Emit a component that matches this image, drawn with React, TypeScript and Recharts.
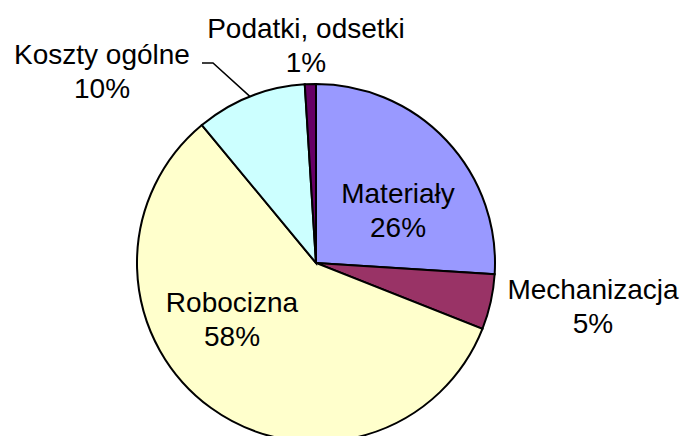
import React from 'react';
import { PieChart, Pie, Cell } from 'recharts';

const categories = ['Materiały', 'Mechanizacja', 'Robocizna', 'Koszty ogólne', 'Podatki, odsetki'];
const shares = [26, 5, 58, 10, 1];
const sliceColors = ['#9999FF', '#993366', '#FFFFCC', '#CCFFFF', '#660066'];

// label placement relative to pie centre (Excel-like manual layout)
const labelOffsets: Record<string, [number, number]> = {
  'Materiały': [82, -53],
  'Mechanizacja': [277, 43],
  'Robocizna': [-84, 56],
  'Koszty ogólne': [-214, -192],
  'Podatki, odsetki': [-10, -218],
};

const pieData = categories.map((name, i) => ({ name, value: shares[i] }));

const RADIAN = Math.PI / 180;

const renderLabel = (props: any) => {
  const { cx, cy, midAngle, outerRadius, name, value } = props;
  const [dx, dy] = labelOffsets[name];
  const x = cx + dx;
  const y = cy + dy;
  let leader = null;
  if (name === 'Koszty ogólne') {
    const ex = cx + outerRadius * Math.cos(-midAngle * RADIAN);
    const ey = cy + outerRadius * Math.sin(-midAngle * RADIAN);
    leader = (
      <polyline
        points={`${ex},${ey} ${x + 111},${y - 8} ${x + 100},${y - 8}`}
        fill="none"
        stroke="#000"
        strokeWidth={1.5}
      />
    );
  }
  return (
    <g>
      {leader}
      <text x={x} y={y - 17} textAnchor="middle" dominantBaseline="central" fill="#000" fontSize={28} fontFamily="Liberation Sans, Arial, sans-serif">
        {name}
      </text>
      <text x={x} y={y + 17} textAnchor="middle" dominantBaseline="central" fill="#000" fontSize={28} fontFamily="Liberation Sans, Arial, sans-serif">
        {value}%
      </text>
    </g>
  );
};

const App: React.FC = () => {
  return (
    <div style={{ position: 'absolute', left: 0, top: 0, width: 686, height: 436, background: '#fff', overflow: 'hidden' }}>
      <PieChart width={686} height={436} margin={{ top: 0, right: 0, bottom: 0, left: 0 }}>
        <Pie
          data={pieData}
          dataKey="value"
          nameKey="name"
          cx={316}
          cy={263}
          outerRadius={179}
          startAngle={90}
          endAngle={-270}
          stroke="#000"
          strokeWidth={2}
          label={renderLabel}
          labelLine={false}
          isAnimationActive={false}
        >
          {pieData.map((d, i) => (
            <Cell key={d.name} fill={sliceColors[i]} />
          ))}
        </Pie>
      </PieChart>
    </div>
  );
};

export default App;
